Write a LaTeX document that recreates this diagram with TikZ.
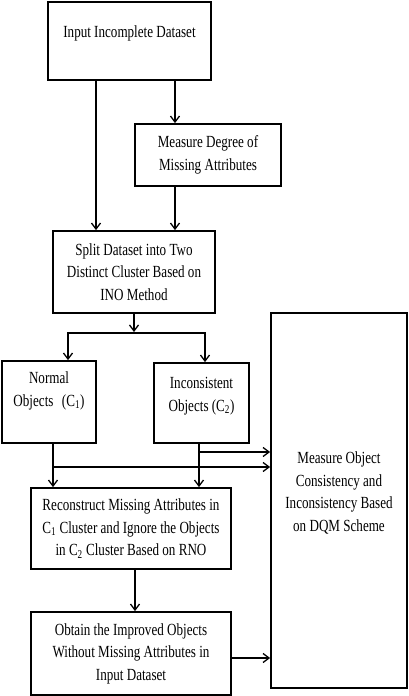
\documentclass[tikz,border=0pt]{standalone}
\usepackage{fontspec}
\setmainfont[FakeStretch=0.77]{Liberation Serif}
\usetikzlibrary{arrows.meta}
\begin{document}
\begin{tikzpicture}[x=1pt,y=-1pt,
  box/.style={draw, line width=1.8pt, inner sep=0pt, align=center},
  txt/.style={align=center, inner sep=0pt},
  arr/.style={line width=1.3pt, -{Straight Barb[length=6pt,width=9pt,line width=1.3pt]}},
  ln/.style={line width=1.3pt},
  every node/.append style={font=\fontsize{17pt}{22.5pt}\selectfont}]
\useasboundingbox (0,0) rectangle (409,696);
% boxes
\node[box, minimum width=163pt, minimum height=78pt] (in) at (129.5,41) {};
\node[txt] (inT) at (129.5,33) {Input Incomplete Dataset};
\node[box, minimum width=146pt, minimum height=62pt] (mdeg) at (208,155) {Measure Degree of\\Missing Attributes};
\node[box, minimum width=162pt, minimum height=82pt] (split) at (134,272) {Split Dataset into Two\\Distinct Cluster Based on\\INO Method};
\node[box, minimum width=94pt, minimum height=82pt] (norm) at (49,402) {};
\node[txt] (normT) at (49,391) {Normal\\Objects\enspace(C\textsubscript{1})};
\node[box, minimum width=95pt, minimum height=80pt] (inc) at (201.5,403) {};
\node[txt] (incT) at (201.5,396) {Inconsistent\\Objects (C\textsubscript{2})};
\node[box, minimum width=136pt, minimum height=375pt] (big) at (339,500.5) {};
\node[txt] (bigT) at (339,493) {Measure Object\\Consistency and\\Inconsistency Based\\on DQM Scheme};
\node[box, minimum width=200pt, minimum height=81pt] (rec) at (131,528.5) {Reconstruct Missing Attributes in\\C\textsubscript{1} Cluster and Ignore the Objects\\in C\textsubscript{2} Cluster Based on RNO};
\node[box, minimum width=200pt, minimum height=83pt] (obt) at (131,653.5) {Obtain the Improved Objects\\Without Missing Attributes in\\Input Dataset};
% column coordinates
\coordinate (cA) at (96,0);
\coordinate (cB) at (175,0);
\coordinate (cC) at (134,0);
\coordinate (cF) at (53,0);
\coordinate (cG) at (199,0);
\coordinate (cH) at (135,0);
\coordinate (bar) at (134,332);
\coordinate (jL) at (68,333);
\coordinate (jR) at (205,333);
\coordinate (k1) at (199,452);
\coordinate (k2) at (53,467);
\coordinate (m) at (231,658);
% connectors
\draw[arr] (in.south -| cA) -- (split.north -| cA);
\draw[arr] (in.south -| cB) -- (mdeg.north -| cB);
\draw[arr] (mdeg.south -| cB) -- (split.north -| cB);
\draw[arr] (split.south -| cC) -- (bar);
\draw[ln] ([xshift=-0.65pt]jL) -- ([xshift=0.65pt]jR);
\draw[arr] (jL) -- (norm.north -| jL);
\draw[arr] (jR) -- (inc.north -| jR);
\draw[arr] (inc.south -| cG) -- (rec.north -| cG);
\draw[arr] (k1) -- (k1 -| big.west);
\draw[arr] (norm.south -| cF) -- (rec.north -| cF);
\draw[arr] (k2) -- (k2 -| big.west);
\draw[arr] (rec.south -| cH) -- (obt.north -| cH);
\draw[arr] (m) -- (m -| big.west);
\end{tikzpicture}
\end{document}
